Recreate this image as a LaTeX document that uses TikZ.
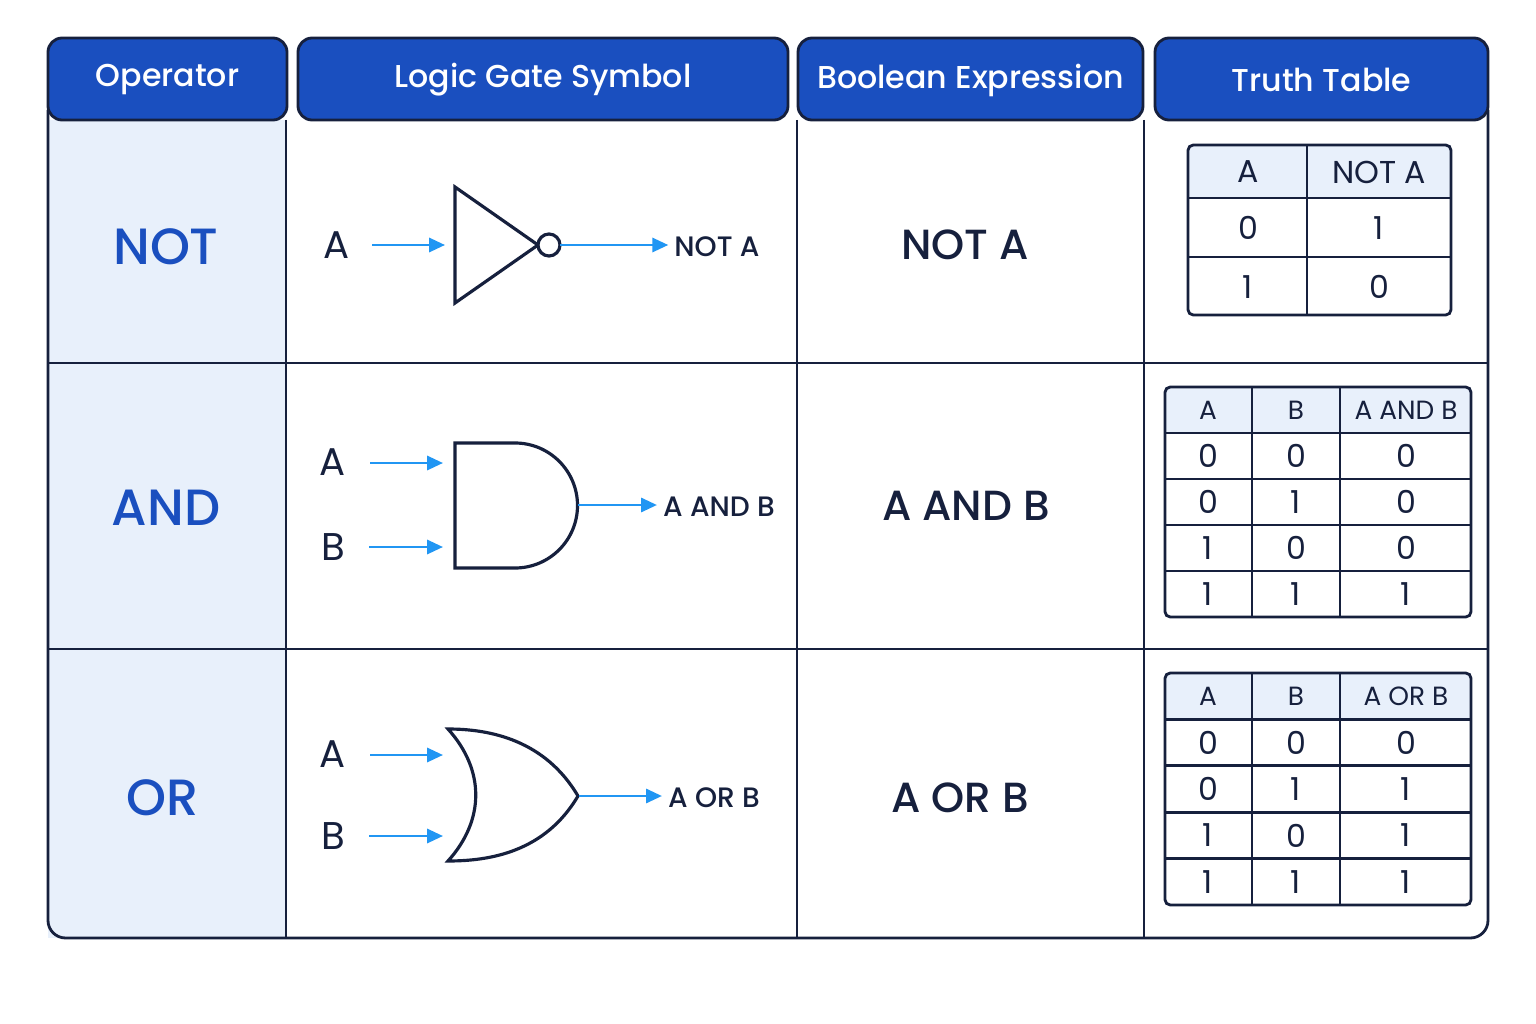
\documentclass[tikz,border=0pt]{standalone}
\usepackage{fontspec}
\setmainfont{Poppins}[BoldFont={Poppins Medium}]
\usetikzlibrary{arrows.meta}
\definecolor{hdblue}{HTML}{1A4FBF}
\definecolor{navy}{HTML}{16203D}
\definecolor{paleblue}{HTML}{E8F0FB}
\definecolor{wire}{HTML}{2196F3}
\tikzset{
  grid/.style={draw=navy,line width=1.6pt},
  gate/.style={draw=navy,line width=1.8pt,fill=white},
  wirearr/.style={wire,line width=1.5pt,-{Triangle[length=9pt,width=8pt]}},
  head/.style={text=white,font=\fontsize{18}{22}\selectfont\bfseries},
  opname/.style={text=hdblue,font=\fontsize{29}{34}\selectfont\bfseries},
  expr/.style={text=navy,font=\fontsize{24}{28}\selectfont\bfseries},
  pin/.style={text=navy,font=\fontsize{22}{26}\selectfont},
  outlbl/.style={text=navy,font=\fontsize{16}{19}\selectfont\bfseries},
  cell/.style={text=navy,font=\fontsize{18}{21}\selectfont},
  smallcell/.style={text=navy,font=\fontsize{15}{18}\selectfont}
}
\begin{document}
\begin{tikzpicture}[x=0.02cm,y=-0.02cm]
\useasboundingbox[fill=white] (0,0) rectangle (1536,1024);

% frame and body
\fill[paleblue] (48,120) rectangle (286,938);
\draw[grid,rounded corners=10pt] (48,110) -- (48,938) -- (1488,938) -- (1488,110);
\foreach \x in {286,797,1144} \draw[grid] (\x,120) -- (\x,938);
\foreach \y in {363,649} \draw[grid] (48,\y) -- (1488,\y);

% header
\foreach \a/\b/\t in {48/287/Operator,298/788/Logic Gate Symbol,798/1143/Boolean Expression,1155/1488/Truth Table}{
  \draw[grid,fill=hdblue,rounded corners=8pt] (\a,120) -- (\a,38) -- (\b,38) -- (\b,120) -- cycle;
  \node[head] at ({(\a+\b)/2},80) {\t};
}

% operator names
\node[opname] (opnot) at (166,247) {NOT};
\node[opname] (opand) at (166,508) {AND};
\node[opname] (opor) at (163,798) {OR};

% NOT gate
\node[pin] (na) at (337,245) {A};
\draw[gate] (455,187) -- (455,303) -- (538,245) -- cycle;
\draw[gate] (549,245) circle (11);
\coordinate (nin) at (445,245);
\coordinate (nout) at (560,245);
\node[outlbl] (nq) at (717,247) {NOT A};
\draw[wirearr] (na.east) ++(16,0) -- (nin);
\draw[wirearr] (nout) -- (nout -| nq.west);

% AND gate
\node[pin] (aa) at (333,462) {A};
\node[pin] (ab) at (333,547) {B};
\draw[gate] (455,443) -- (515,443) arc (-90:90:62.5) -- (455,568) -- cycle;
\coordinate (aina) at (443,463);
\coordinate (ainb) at (443,547);
\coordinate (aout) at (578,505);
\node[outlbl] (aq) at (719,507) {A AND B};
\draw[wirearr] (aa.east) ++(18,1) -- (aina);
\draw[wirearr] (ab.east) ++(18,0) -- (ainb);
\draw[wirearr] (aout) -- (aout -| aq.west);

% OR gate
\node[pin] (oa) at (333,754) {A};
\node[pin] (ob) at (333,836) {B};
\draw[gate] (448,729) .. controls (490,729) and (545,740) .. (578,796)
  .. controls (545,852) and (490,861) .. (448,861)
  .. controls (485,820) and (485,770) .. (448,729) -- cycle;
\coordinate (oina) at (443,755);
\coordinate (oinb) at (443,836);
\coordinate (oout) at (579,796);
\node[outlbl] (oq) at (714,798) {A OR B};
\draw[wirearr] (oa.east) ++(18,1) -- (oina);
\draw[wirearr] (ob.east) ++(18,0) -- (oinb);
\draw[wirearr] (oout) -- (oout -| oq.west);

% boolean expressions
\node[expr] (enot) at (965,245) {NOT A};
\node[expr] (eand) at (966,506) {A AND B};
\node[expr] (eor) at (960,798) {A OR B};

% truth table NOT
\fill[paleblue] (1188,145) rectangle (1451,198);
\foreach \y in {198,257} \draw[grid] (1188,\y) -- (1451,\y);
\draw[grid] (1307,145) -- (1307,315);
\draw[grid,rounded corners=3pt] (1188,145) rectangle (1451,315);
\foreach \p/\q/\y in {A/NOT A/172,0/1/228,1/0/287}{
  \node[cell] at (1248,\y) {\p};
  \node[cell] at (1379,\y) {\q};
}

% truth tables AND / OR
\foreach \t/\o/\hd/\ra/\rb/\rc/\rd in {387/46/A AND B/0/0/0/1, 673/46.4/A OR B/0/1/1/1}{
  \fill[paleblue] (1165,\t) rectangle (1471,\t+\o);
  \foreach \i in {1,...,4} \draw[grid] (1165,\t+\i*\o) -- (1471,\t+\i*\o);
  \foreach \x in {1252,1340} \draw[grid] (\x,\t) -- (\x,\t+5*\o);
  \draw[grid,rounded corners=3pt] (1165,\t) rectangle (1471,\t+5*\o);
  \node[smallcell] at (1208,\t+0.5*\o) {A};
  \node[smallcell] at (1296,\t+0.5*\o) {B};
  \node[smallcell] at (1406,\t+0.5*\o) {\hd};
  \foreach \i/\a/\b/\r in {1/0/0/\ra,2/0/1/\rb,3/1/0/\rc,4/1/1/\rd}{
    \node[cell] at (1208,\t+\i*\o+0.5*\o) {\a};
    \node[cell] at (1296,\t+\i*\o+0.5*\o) {\b};
    \node[cell] at (1406,\t+\i*\o+0.5*\o) {\r};
  }
}
\end{tikzpicture}
\end{document}
